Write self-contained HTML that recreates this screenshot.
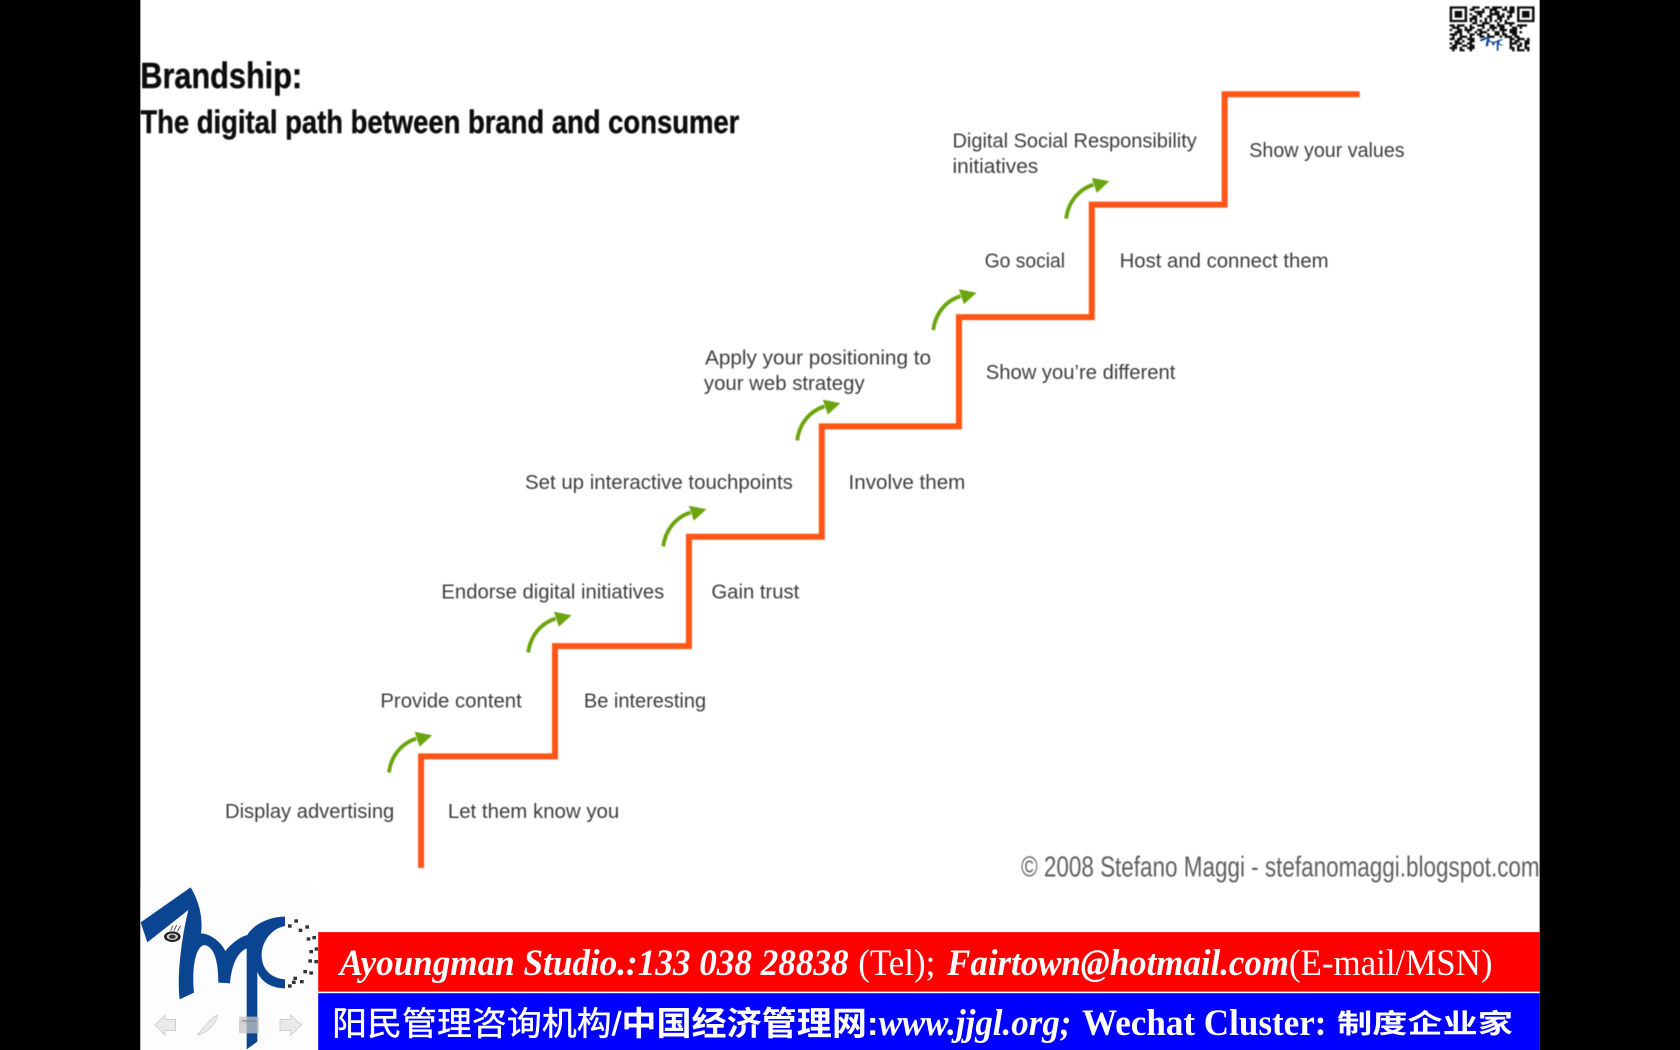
<!DOCTYPE html>
<html><head><meta charset="utf-8"><style>
html,body{margin:0;padding:0;background:#000;width:1680px;height:1050px;overflow:hidden}
svg{display:block}
.l{font-family:"Liberation Sans",sans-serif;font-size:19px;fill:#3c3c3c}
.t{font-family:"Liberation Sans",sans-serif;font-weight:bold;fill:#0a0a0a;stroke:#0a0a0a;stroke-width:.4px}
.s{font-family:"Liberation Serif","Noto Serif CJK SC",serif;fill:#fff;font-size:35px}
.c{font-family:"Liberation Sans","Noto Sans CJK SC",sans-serif;fill:#fff;font-size:31px}
.b{font-weight:bold}.i{font-style:italic}
</style></head><body>
<svg width="1680" height="1050" viewBox="0 0 1568 980" xmlns="http://www.w3.org/2000/svg">
<defs>
<filter id="f" x="-2%" y="-2%" width="104%" height="104%"><feGaussianBlur stdDeviation=".4"/></filter>
<filter id="q" x="-5%" y="-5%" width="110%" height="110%"><feGaussianBlur stdDeviation=".6"/></filter>
<g id="a"><path d="M0 0C2 -15 11 -27 25.5 -31.7" fill="none" stroke="#6aa510" stroke-width="3.6"/><path d="M24 -38L40.4 -34.8L28.6 -24Z" fill="#6aa510"/></g>
<path id="m" fill="#0b4592" d="M152 22C175 60 190 110 183 160C205 160 240 180 256 213C275 190 300 170 322 165C335 140 380 110 435 110L435 138C395 145 365 185 365 225C365 270 395 295 435 298L435 325C400 325 365 310 352 275L352 485L320 508L320 205C295 215 275 250 270 310L235 308C235 250 225 200 193 195C165 200 155 270 162 338L119 358C110 290 125 170 145 90L22 187L2 127Z"/>
</defs>
<rect width="1568" height="980" fill="#000"/>
<rect x="131" y="0" width="1306" height="980" fill="#fff"/>

<g filter="url(#f)">
<text class="t" x="131" y="82" font-size="34" textLength="151" lengthAdjust="spacingAndGlyphs">Brandship:</text>
<text class="t" x="131" y="124" font-size="30" textLength="559" lengthAdjust="spacingAndGlyphs">The digital path between brand and consumer</text>

<path d="M393 810V706H518V603H643V501H767V398H895V296H1019V191H1143V88H1269" fill="none" stroke="#ff5516" stroke-width="5.6"/>

<use href="#a" x="363" y="721"/>
<use href="#a" x="493" y="609"/>
<use href="#a" x="619" y="510"/>
<use href="#a" x="744" y="411"/>
<use href="#a" x="871" y="308"/>
<use href="#a" x="995" y="204"/>

<text class="l" x="210" y="763.5" textLength="158" lengthAdjust="spacingAndGlyphs">Display advertising</text>
<text class="l" x="418" y="763.5" textLength="160" lengthAdjust="spacingAndGlyphs">Let them know you</text>
<text class="l" x="355" y="660.5" textLength="132" lengthAdjust="spacingAndGlyphs">Provide content</text>
<text class="l" x="545" y="660.5" textLength="114" lengthAdjust="spacingAndGlyphs">Be interesting</text>
<text class="l" x="412" y="558.5" textLength="208" lengthAdjust="spacingAndGlyphs">Endorse digital initiatives</text>
<text class="l" x="664" y="558.5" textLength="82" lengthAdjust="spacingAndGlyphs">Gain trust</text>
<text class="l" x="490" y="456.5" textLength="250" lengthAdjust="spacingAndGlyphs">Set up interactive touchpoints</text>
<text class="l" x="792" y="456.5" textLength="109" lengthAdjust="spacingAndGlyphs">Involve them</text>
<text class="l" x="658" y="340" textLength="211" lengthAdjust="spacingAndGlyphs">Apply your positioning to</text>
<text class="l" x="657" y="364" textLength="150" lengthAdjust="spacingAndGlyphs">your web strategy</text>
<text class="l" x="920" y="353.5" textLength="177" lengthAdjust="spacingAndGlyphs">Show you’re different</text>
<text class="l" x="919" y="249.5" textLength="75" lengthAdjust="spacingAndGlyphs">Go social</text>
<text class="l" x="1045" y="249.5" textLength="195" lengthAdjust="spacingAndGlyphs">Host and connect them</text>
<text class="l" x="889" y="137.5" textLength="228" lengthAdjust="spacingAndGlyphs">Digital Social Responsibility</text>
<text class="l" x="889" y="161.5" textLength="80" lengthAdjust="spacingAndGlyphs">initiatives</text>
<text class="l" x="1166" y="146.5" textLength="145" lengthAdjust="spacingAndGlyphs">Show your values</text>
<text x="953" y="818" font-family="Liberation Sans, sans-serif" font-size="27" fill="#5e5e5e" textLength="484" lengthAdjust="spacingAndGlyphs">© 2008 Stefano Maggi - stefanomaggi.blogspot.com</text>
</g>

<!-- QR -->
<g filter="url(#q)">
<g transform="translate(1353,6) scale(2.33,2.1)" fill="none" stroke="#111">
<path d="M0 .5h7M0 6.5h7M.5 0v7M6.5 0v7M27 .5h7M27 6.5h7M27.5 0v7M33.5 0v7" stroke-width="1"/>
<rect x="2" y="2" width="3" height="3" fill="#111" stroke="none"/><rect x="29" y="2" width="3" height="3" fill="#111" stroke="none"/>
<path stroke-width="1" d="M9 .5h3m2 0h2m1 0h4m1 0h1m1 0h2M8 1.5h2m3 0h1m2 0h3m2 0h2m1 0h2M10 2.5h4m2 0h1m1 0h2m3 0h3M8 3.5h1m2 0h2m3 0h4m1 0h1m2 0h1M9 4.5h2m1 0h1m2 0h2m2 0h3m1 0h2M8 5.5h3m3 0h1m1 0h1m2 0h2m2 0h1M8 6.5h1m1 0h1m1 0h1m1 0h1m1 0h1m1 0h1m1 0h1m1 0h1M9 7.5h2m2 0h3m3 0h1m2 0h4M0 8.5h2m1 0h3m2 0h1m2 0h3m2 0h2m1 0h3m2 0h1m2 0h4M1 9.5h3m2 0h1m1 0h2m3 0h1m2 0h3m1 0h2m3 0h2m1 0h1M0 10.5h1m2 0h2m1 0h3m2 0h2m2 0h1m1 0h1m2 0h3m1 0h3M2 11.5h3m2 0h1m2 0h1m1 0h3m3 0h2m1 0h1m2 0h3m1 0h1M0 12.5h3m1 0h1m3 0h2m1 0h2m2 0h1m2 0h2m1 0h2m2 0h2M1 13.5h1m2 0h3m1 0h1m3 0h2m1 0h3m2 0h1m1 0h3m1 0h2M0 14.5h2m1 0h2m2 0h3m14 0h2m1 0h3m1 0h1M2 15.5h2m1 0h1m2 0h2m14 0h1m1 0h2m2 0h2M0 16.5h1m1 0h3m2 0h2m15 0h3m1 0h1m1 0h2M1 17.5h2m2 0h2m1 0h2m14 0h1m2 0h2m1 0h1M0 18.5h3m1 0h1m2 0h3m14 0h2m1 0h1m2 0h2M1 19.5h1m2 0h2m2 0h1m16 0h1m1 0h3m1 0h1"/>
</g>
<use href="#m" transform="translate(1381,33.5) scale(.05,.028)"/>
</g>

<!-- Logo -->
<rect x="131" y="828" width="166" height="152" fill="#fdfdfd"/>
<g transform="scale(.93333) translate(140,880) scale(.33333)">
<use href="#m"/>
<ellipse cx="97" cy="170" rx="25" ry="16" fill="#222"/><ellipse cx="97" cy="170" rx="17" ry="10" fill="#ccc"/><ellipse cx="97" cy="170" rx="10" ry="6" fill="#333"/>
<path d="M102 152L110 135M112 154L122 137M92 152L99 137" stroke="#555" stroke-width="3"/>
<g fill="#333"><rect x="444" y="133" width="11" height="10"/><rect x="463" y="118" width="11" height="10"/><rect x="476" y="146" width="11" height="10"/><rect x="496" y="136" width="11" height="10"/><rect x="500" y="172" width="11" height="10"/><rect x="517" y="168" width="11" height="10"/><rect x="508" y="210" width="11" height="10"/><rect x="524" y="202" width="10" height="10"/><rect x="505" y="238" width="11" height="10"/><rect x="523" y="240" width="11" height="10"/><rect x="490" y="270" width="11" height="10"/><rect x="508" y="274" width="11" height="10"/><rect x="460" y="290" width="11" height="10"/><rect x="480" y="300" width="11" height="10"/><rect x="456" y="302" width="11" height="10"/><rect x="444" y="313" width="11" height="10"/></g>
<g fill="#e9e9e9" stroke="#bbb" stroke-width="2" opacity=".9">
<path d="M45 435L75 405V418H107V452H75V466Z"/>
<path d="M172 465C195 440 210 415 232 405C232 425 210 455 172 465Z"/>
<path d="M420 418H452V405L485 435L452 466V452H420Z"/>
</g>
<rect x="297" y="410" width="60" height="50" rx="4" fill="#c4c4c4" opacity=".75"/>
<rect x="305" y="420" width="44" height="6" fill="#888" opacity=".6"/>
</g>

<!-- Bands -->
<rect x="297" y="870" width="1140" height="55.5" fill="#f00"/>
<rect x="297" y="927" width="1140" height="53" fill="#00f"/>
<text class="s b i" x="317" y="910" textLength="475" lengthAdjust="spacingAndGlyphs">Ayoungman Studio.:133 038 28838</text>
<text class="s" x="801" y="910" textLength="72" lengthAdjust="spacingAndGlyphs">(Tel);</text>
<text class="s b i" x="884" y="910" textLength="319" lengthAdjust="spacingAndGlyphs">Fairtown@hotmail.com</text>
<text class="s" x="1203" y="910" textLength="190" lengthAdjust="spacingAndGlyphs">(E-mail/MSN)</text>
<text class="c" style="stroke:#fff;stroke-width:.4px" x="310" y="966" textLength="270" lengthAdjust="spacingAndGlyphs">阳民管理咨询机构/</text>
<text class="c b" x="580" y="966" textLength="240" lengthAdjust="spacingAndGlyphs">中国经济管理网:</text>
<text class="s b i" x="820" y="966" textLength="180" lengthAdjust="spacingAndGlyphs">www.jjgl.org;</text>
<text class="s b" x="1010" y="966" textLength="228" lengthAdjust="spacingAndGlyphs">Wechat Cluster:</text>
<text class="c b" style="font-size:25px" x="1248" y="964" textLength="164" lengthAdjust="spacingAndGlyphs">制度企业家</text>
</svg>
</body></html>
